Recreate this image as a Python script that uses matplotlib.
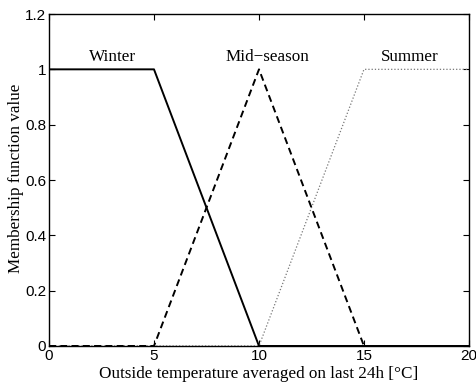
import matplotlib
matplotlib.use("Agg")
import matplotlib.pyplot as plt

# Membership function breakpoints (temperature in °C, membership value)
winter_x = [0, 5, 10, 20]
winter_y = [1, 1, 0, 0]
mid_x = [0, 5, 10, 15, 20]
mid_y = [0, 0, 1, 0, 0]
summer_x = [0, 10, 15, 20]
summer_y = [0, 0, 1, 1]

labels = ["Winter", "Mid\u2212season", "Summer"]
label_x = [3.05, 10.4, 17.2]
label_y = [1.045, 1.045, 1.045]

xticks = [0, 5, 10, 15, 20]
yticks = [0, 0.2, 0.4, 0.6, 0.8, 1, 1.2]

fig = plt.figure(figsize=(4.77, 3.84), dpi=100)
ax = fig.add_axes([0.1027, 0.099, 0.8805, 0.8645])

ax.plot(summer_x, summer_y, color="#777777", linestyle=(0, (1, 1.6)), linewidth=0.9)
ax.plot(mid_x, mid_y, color="black", linestyle=(0, (3.6, 2.2)), linewidth=1.4)
ax.plot(winter_x, winter_y, color="black", linestyle="-", linewidth=1.4)

for t, x, y in zip(labels, label_x, label_y):
    ax.text(x, y, t, ha="center", va="center", fontsize=12.3,
            family="Liberation Serif")

ax.set_xlim(0, 20)
ax.set_ylim(0, 1.2)
ax.set_xticks(xticks)
ax.set_yticks(yticks)
ax.set_xticklabels([str(v) for v in xticks])
ax.set_yticklabels(["0", "0.2", "0.4", "0.6", "0.8", "1", "1.2"])
ax.tick_params(direction="in", top=True, right=True, length=4, width=0.8,
               labelsize=11, pad=2)
for lab in ax.get_xticklabels() + ax.get_yticklabels():
    lab.set_family("Liberation Sans")
for s in ax.spines.values():
    s.set_linewidth(1.0)

fig.text(0.543, 0.026, "Outside temperature averaged on last 24h [\u00b0C]",
         ha="center", va="center", fontsize=12.3, family="Liberation Serif")
fig.text(0.034, 0.536, "Membership function value", rotation=90,
         ha="center", va="center", fontsize=12.3, family="Liberation Serif")

fig.savefig("out.png", dpi=100)
